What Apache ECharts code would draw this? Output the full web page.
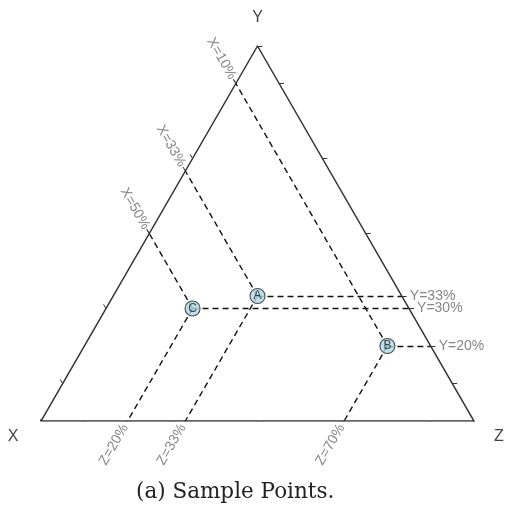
<!DOCTYPE html>
<html>
<head>
<meta charset="utf-8">
<script src="https://cdn.jsdelivr.net/npm/echarts@6/dist/echarts.min.js"></script>
<style>html,body{margin:0;padding:0;background:#fff}#c{width:505px;height:505px}</style>
</head>
<body>
<div id="c"></div>
<script>
// ---- data ----
const pointNames = ['A', 'B', 'C'];
const xVals = [33.3, 10, 50];
const yVals = [33.3, 20, 30];
const zVals = [33.3, 70, 20];
const vertexNames = ['X', 'Y', 'Z'];
const tickFracs = [0, 0.1, 0.3, 0.5, 0.7, 0.9, 1];
const caption = '(a) Sample Points.';

// ---- helpers ----
const H = Math.sqrt(3) / 2;
function tern(x, y, z) {
  const s = x + y + z;
  return [(z + y / 2) / s, (y / s) * H];
}
const L = 0.011;
const dirX = [-0.5, H];
const dirY = [1, 0];
const dirZ = [-0.5, -H];

const guide = [];
const labelsX = [], labelsY = [], labelsZ = [];
const ticks = [];
function addTick(p, d) {
  ticks.push({ coords: [p, [p[0] + d[0] * L, p[1] + d[1] * L]] });
}
pointNames.forEach((n, i) => {
  const x = xVals[i], y = yVals[i], z = zVals[i];
  const s = x + y + z;
  const xf = x / s, yf = y / s, zf = z / s;
  const p = tern(xf, yf, zf);
  const ex = tern(xf, 1 - xf, 0);
  const ey = tern(0, yf, 1 - yf);
  const ez = tern(1 - zf, 0, zf);
  guide.push({ coords: [p, ex] }, { coords: [p, ey] }, { coords: [p, ez] });
  labelsX.push({ value: ex, name: 'X=' + Math.round(x) + '%' });
  labelsY.push({ value: ey, name: 'Y=' + Math.round(y) + '%' });
  labelsZ.push({ value: ez, name: 'Z=' + Math.round(z) + '%' });
  addTick(ex, dirX); addTick(ey, dirY); addTick(ez, dirZ);
});
tickFracs.forEach(f => {
  addTick(tern(f, 1 - f, 0), dirX);
  addTick(tern(0, f, 1 - f), dirY);
  addTick(tern(1 - f, 0, f), dirZ);
});

const pts = pointNames.map((n, i) => ({ name: n, value: tern(xVals[i], yVals[i], zVals[i]) }));
const verts = [
  { name: vertexNames[0], value: tern(1, 0, 0), label: { offset: [-28, 16] } },
  { name: vertexNames[1], value: tern(0, 1, 0), label: { offset: [0, -28] } },
  { name: vertexNames[2], value: tern(0, 0, 1), label: { offset: [25, 16] } }
];
const tri = [tern(1, 0, 0), tern(0, 0, 1), tern(0, 1, 0), tern(1, 0, 0)];

const labStyle = { color: '#666', fontSize: 14, fontFamily: 'Liberation Sans, Arial, sans-serif' };
const hidden = { color: 'rgba(0,0,0,0)' };

const chart = echarts.init(document.getElementById('c'), null, { renderer: 'canvas' });
chart.setOption({
  animation: false,
  backgroundColor: '#fff',
  title: {
    text: caption, left: 131, top: 476,
    textStyle: { fontFamily: 'DejaVu Serif, serif', fontWeight: 'normal', fontSize: 21.5, color: '#222' }
  },
  grid: { left: 41, right: 31, top: 46, bottom: 84 },
  xAxis: { type: 'value', min: 0, max: 1, show: false },
  yAxis: { type: 'value', min: 0, max: H, show: false },
  series: [
    {
      type: 'line', data: tri, symbol: 'none', silent: true,
      lineStyle: { color: '#333', width: 1.5 }, z: 3
    },
    {
      type: 'lines', coordinateSystem: 'cartesian2d', data: guide, silent: true,
      lineStyle: { color: '#111', width: 1.4, type: [6, 4], opacity: 1 }, z: 2
    },
    {
      type: 'lines', coordinateSystem: 'cartesian2d', data: ticks, silent: true,
      lineStyle: { color: '#333', width: 1, opacity: 1 }, z: 3
    },
    {
      type: 'scatter', data: labelsX, symbolSize: 1, itemStyle: hidden, silent: true,
      label: Object.assign({ show: true, position: 'inside', formatter: '{b}', rotate: -60,
        align: 'right', verticalAlign: 'middle', padding: [0, 6, 0, 0] }, labStyle)
    },
    {
      type: 'scatter', data: labelsY, symbolSize: 1, itemStyle: hidden, silent: true,
      label: Object.assign({ show: true, position: 'inside', formatter: '{b}', rotate: 0,
        align: 'left', verticalAlign: 'middle', padding: [0, 0, 0, 8] }, labStyle)
    },
    {
      type: 'scatter', data: labelsZ, symbolSize: 1, itemStyle: hidden, silent: true,
      label: Object.assign({ show: true, position: 'inside', formatter: '{b}', rotate: 60,
        align: 'right', verticalAlign: 'middle', padding: [0, 5, 0, 0] }, labStyle)
    },
    {
      type: 'scatter', data: verts, symbolSize: 1, itemStyle: hidden, silent: true,
      label: { show: true, position: 'inside', formatter: '{b}', color: '#111', fontSize: 16,
        fontFamily: 'Liberation Sans, Arial, sans-serif' }
    },
    {
      type: 'scatter', data: pts, symbol: 'circle', symbolSize: 15, z: 5,
      itemStyle: { color: '#ADD8E6', borderColor: '#222', borderWidth: 1.1 },
      label: { show: true, position: 'inside', formatter: '{b}', color: '#222', fontSize: 12,
        fontFamily: 'Liberation Sans, Arial, sans-serif' }
    }
  ]
});
</script>
</body>
</html>
